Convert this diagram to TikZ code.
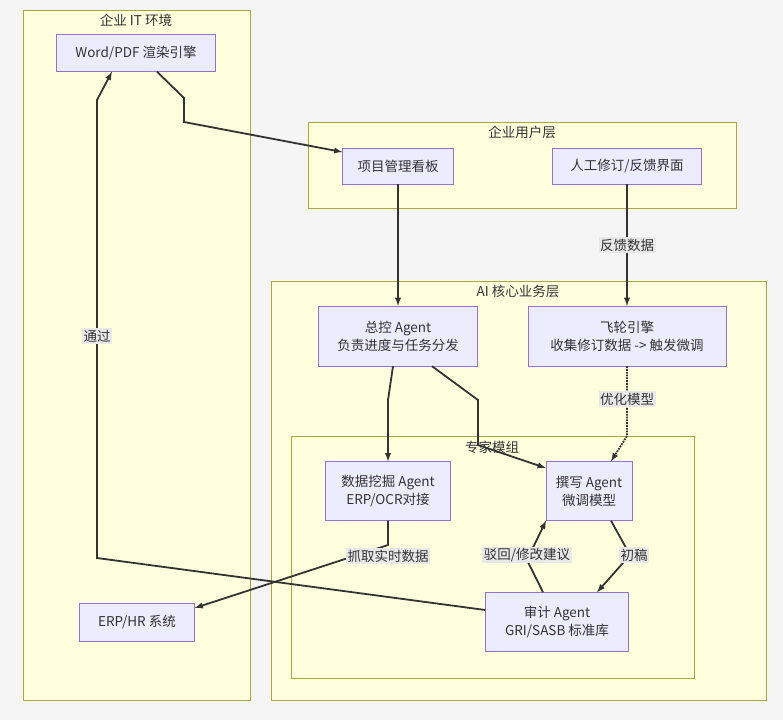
\documentclass[tikz,border=0pt]{standalone}
\usepackage{fontspec}
\setmainfont{Noto Sans CJK SC}
\usepackage{tikz}
\definecolor{clfill}{HTML}{FFFFDE}
\definecolor{cldraw}{HTML}{AAAA33}
\definecolor{ndfill}{HTML}{ECECFF}
\definecolor{nddraw}{HTML}{9370DB}
\definecolor{lbfill}{HTML}{E8E8E8}
\definecolor{ink}{HTML}{333333}
\begin{document}
\begin{tikzpicture}[x=1pt, y=-1pt, font=\fontsize{13.5}{18}\selectfont, text=ink,
	box/.style={draw=nddraw, fill=ndfill, align=center, inner sep=0pt},
	cluster/.style={draw=cldraw, fill=clfill},
	edge/.style={ink, line width=1.8pt, -latex},
	lbl/.style={fill=lbfill, inner sep=1.5pt}]
	\fill[white!96!black] (0,0) rectangle (783,720);

	% clusters
	\draw[cluster] (23,10) rectangle (250,700);
	\node at (136,20) {企业 IT 环境};
	\draw[cluster] (308,122) rectangle (736,208);
	\node at (522,132) {企业用户层};
	\draw[cluster] (271,281) rectangle (766,700);
	\node at (518,291) {AI 核心业务层};
	\draw[cluster] (291,436) rectangle (694,678);
	\node at (492,447) {专家模组};

	% nodes
	\node[box, minimum width=159, minimum height=37] (render) at (136,53) {Word/PDF 渲染引擎};
	\node[box, minimum width=111, minimum height=36] (board) at (398,166) {项目管理看板};
	\node[box, minimum width=149, minimum height=36] (ui) at (627,166) {人工修订/反馈界面};
	\node[box, minimum width=159, minimum height=60] (master) at (398,336) {总控 Agent\\负责进度与任务分发};
	\node[box, minimum width=198, minimum height=60] (fly) at (627,336) {飞轮引擎\\收集修订数据 -> 触发微调};
	\node[box, minimum width=125, minimum height=59] (mine) at (388,491) {数据挖掘 Agent\\ERP/OCR对接};
	\node[box, minimum width=86, minimum height=59] (write) at (589,491) {撰写 Agent\\微调模型};
	\node[box, minimum width=115, minimum height=38] (erp) at (137,622) {ERP/HR 系统};
	\node[box, minimum width=143, minimum height=59] (audit) at (557,622) {审计 Agent\\GRI/SASB 标准库};

	% connectors
	\draw[edge] (render.south -| 157,0) -- (184,98) -- (184,122) -- (board.west |- 0,152);
	\draw[edge] (board) -- (master);
	\draw[edge] (ui) -- node[lbl] {反馈数据} (fly);
	\draw[edge, densely dotted] (fly) -- (627,436) -- (write.north -| 611,0);
	\node[lbl] at (627,399) {优化模型};
	\draw[edge] (master.south -| 393,0) -- (388,400) -- (mine);
	\draw[edge] (master.south -| 432,0) -- (478,400) -- (478,445) -- (write.west |- 0,468);
	\draw[edge] (mine) -- (388,545) -- (erp.east |- 0,608);
	\node[lbl] at (388,556) {抓取实时数据};
	\draw[edge] (write.south -| 611,0) -- (630,555) -- (audit.north -| 597,0);
	\node[lbl] at (634,555) {初稿};
	\draw[edge] (audit.north -| 543,0) -- (527,560) -- (write.south -| 546,0);
	\node[lbl] at (527,555) {驳回/修改建议};
	\draw[edge] (audit.west |- 0,610) -- (97,558) -- (97,100) -- (render.south -| 112,0);
	\node[lbl] at (97,336) {通过};
\end{tikzpicture}
\end{document}
